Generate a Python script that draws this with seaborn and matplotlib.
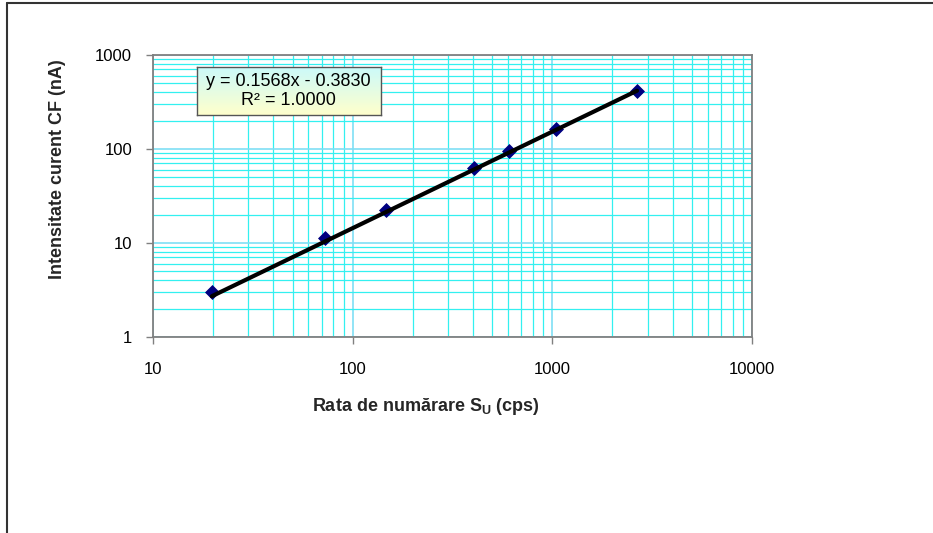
import numpy as np
import pandas as pd
import matplotlib
matplotlib.use("Agg")
import matplotlib.pyplot as plt
from matplotlib.lines import Line2D
from matplotlib.ticker import LogLocator, FuncFormatter, NullFormatter
import seaborn as sns

# Calibration points: count rate vs. CF current
rate_cps = [19.7, 72.5, 147, 406, 610, 1047, 2655]
current_na = [3.0, 11.2, 22.5, 63.0, 95.0, 164.0, 415.0]

# Linear trendline coefficients and their label
slope = 0.1568
intercept = -0.3830
r_squared = 1.0000

x_ticks = [10, 100, 1000, 10000]
y_ticks = [1, 10, 100, 1000]

sns.set_theme(style="white")
plt.rcParams["font.family"] = ["Liberation Sans", "DejaVu Sans"]

fig = plt.figure(figsize=(9.33, 5.33), dpi=100)
ax = fig.add_axes([0.164, 0.368, 0.642, 0.529])

df = pd.DataFrame({"rate": rate_cps, "current": current_na})
x_fit = np.array([min(rate_cps), max(rate_cps)])
fit = pd.DataFrame({"rate": x_fit, "current": slope * x_fit + intercept})

ax.set_xscale("log")
ax.set_yscale("log")
ax.set_xlim(10, 10000)
ax.set_ylim(1, 1000)

# grid: minor and major lines in cyan
ax.xaxis.set_minor_locator(LogLocator(base=10, subs=np.arange(2, 10)))
ax.yaxis.set_minor_locator(LogLocator(base=10, subs=np.arange(2, 10)))
ax.grid(True, which="minor", color="#33F0F0", lw=0.9)
ax.grid(True, which="major", color="#7FDFF5", lw=1.2)
ax.set_axisbelow(True)

sns.scatterplot(data=df, x="rate", y="current", marker="D", s=50,
                color="#000080", edgecolor="#000080", ax=ax, zorder=3)
sns.lineplot(data=fit, x="rate", y="current", color="black", lw=3,
             ax=ax, zorder=4)

ax.set_xticks(x_ticks)
ax.set_yticks(y_ticks)
fmt = FuncFormatter(lambda v, p: f"{v:g}")
ax.xaxis.set_major_formatter(fmt)
ax.yaxis.set_major_formatter(fmt)
ax.xaxis.set_minor_formatter(NullFormatter())
ax.yaxis.set_minor_formatter(NullFormatter())
ax.tick_params(axis="both", which="major", direction="out", length=5,
               width=1, color="#808080", labelsize=12, labelcolor="black")
ax.tick_params(axis="x", which="major", pad=13)
ax.tick_params(axis="y", which="major", pad=10)
ax.tick_params(which="minor", length=0)
ax.xaxis.set_ticks_position("bottom")
ax.yaxis.set_ticks_position("left")

for s in ax.spines.values():
    s.set_color("#808080")
    s.set_linewidth(1.3)

ax.set_xlabel("Rata de numărare S$_\\mathregular{U}$ (cps)",
              fontsize=13, fontweight="bold")
ax.set_ylabel("Intensitate curent CF (nA)", fontsize=13, fontweight="bold")
ax.xaxis.set_label_coords(0.456, -0.209)
ax.yaxis.set_label_coords(-0.145, 0.596)

# trendline equation box with a cyan-to-yellow gradient
box = fig.add_axes([0.211, 0.784, 0.197, 0.090])
grad = np.linspace(0, 1, 64)[:, None]
top_c = np.array([0.80, 0.98, 0.98])
bot_c = np.array([1.00, 1.00, 0.80])
img = top_c[None, None, :] * (1 - grad[..., None]) + bot_c[None, None, :] * grad[..., None]
img = np.repeat(img, 4, axis=1)
box.imshow(img, aspect="auto", extent=[0, 1, 0, 1], origin="upper")
box.set_xlim(0, 1)
box.set_ylim(0, 1)
box.set_xticks([])
box.set_yticks([])
for s in box.spines.values():
    s.set_color("#555555")
    s.set_linewidth(1.0)
box.text(0.5, 0.5,
         f"y = {slope:.4f}x - {abs(intercept):.4f}\nR² = {r_squared:.4f}",
         ha="center", va="center", fontsize=13, linespacing=1.2,
         color="black")

# outer chart frame (top and left edges)
fig.add_artist(Line2D([0.008, 1.0], [0.995, 0.995], transform=fig.transFigure,
                      color="#333333", lw=1.5))
fig.add_artist(Line2D([0.008, 0.008], [0.0, 0.995], transform=fig.transFigure,
                      color="#333333", lw=1.5))

fig.savefig("out.png", dpi=100)
